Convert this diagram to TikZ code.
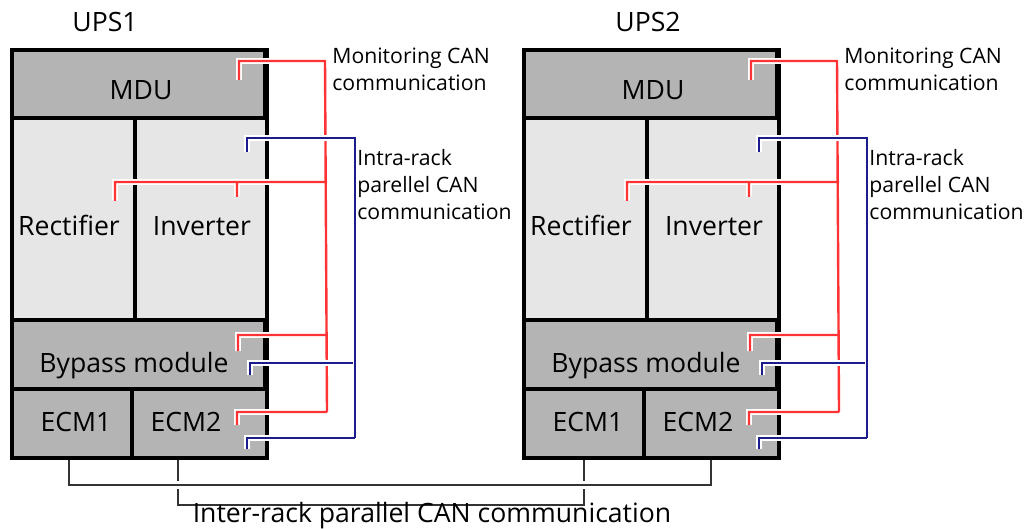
\documentclass[tikz,border=0pt]{standalone}
\usepackage{fontspec}
\setmainfont{Open Sans}
\usetikzlibrary{positioning}
\definecolor{cellgray}{HTML}{B4B4B4}
\definecolor{celllight}{HTML}{E6E6E6}
\definecolor{monred}{HTML}{FF3333}
\definecolor{intrablue}{HTML}{1C1C8F}
\tikzset{
    cell/.style = {draw=black,line width=1pt,inner sep=0,anchor=north west},
    darkcell/.style = {cell,fill=cellgray},
    litecell/.style = {cell,fill=celllight},
    celltext/.style = {anchor=base,inner sep=0,font=\fontsize{13.3}{15}\selectfont},
    rackframe/.style = {draw=black,line width=1.6pt},
    monitor/.style = {draw=monred,line width=1.2pt,
        preaction={draw=white,line width=2.9pt}},
    intra/.style = {draw=intrablue,line width=1.2pt,
        preaction={draw=white,line width=2.9pt}},
    inter/.style = {draw=black!80,line width=1.1pt},
    note/.style = {align=left,anchor=north west,inner sep=0,
        font=\fontsize{10.6}{13.4}\selectfont}
}
\begin{document}
\begin{tikzpicture}[x=0.5pt,y=-0.5pt]
    \useasboundingbox (0,0) rectangle (1026,529);
    \foreach \i/\dx/\ux in {1/0/105,2/512/648}{
        % Cells
        \node[darkcell,minimum width=125.5pt,minimum height=33pt] (mdu\i) at (12+\dx,50) {};
        \node[litecell,minimum width=60.5pt,minimum height=100pt,below right=0pt of mdu\i.south west] (rect\i) {};
        \node[litecell,minimum width=65pt,minimum height=100pt,below right=0pt of rect\i.north east] (inv\i) {};
        \node[darkcell,minimum width=125.5pt,minimum height=33.5pt,below right=0pt of rect\i.south west] (byp\i) {};
        \node[darkcell,minimum width=59pt,minimum height=33.5pt,below right=0pt of byp\i.south west] (ecma\i) {};
        \node[darkcell,minimum width=66.5pt,minimum height=33.5pt,below right=0pt of ecma\i.north east] (ecmb\i) {};
        % Texts
        \node[celltext] (ups\i) at (\ux,32) {UPS\i};
        \node[celltext] (tmdu\i) at ([shift={(2.5,16)}]mdu\i.center) {MDU};
        \node[celltext] (trect\i) at ([shift={(-4.5,16)}]rect\i.center) {Rectifier};
        \node[celltext] (tinv\i) at ([shift={(1,16)}]inv\i.center) {Inverter};
        \node[celltext] (tbyp\i) at ([shift={(-4.5,17.5)}]byp\i.center) {Bypass module};
        \node[celltext] (tecma\i) at ([shift={(4,7.5)}]ecma\i.center) {ECM1};
        \node[celltext] (tecmb\i) at ([shift={(-13.5,7.5)}]ecmb\i.center) {ECM2};
        \node[note] (mon\i) at ([shift={(67,-2)}]mdu\i.north east) {Monitoring CAN\\communication};
        \node[note] (par\i) at ([shift={(90,31)}]inv\i.north east) {Intra-rack\\parellel CAN\\communication};
        % Stub ends and buses
        \coordinate (smdu\i) at ([shift={(-26,30)}]mdu\i.north east);
        \coordinate (srect\i) at ([shift={(103,83)}]rect\i.north west);
        \coordinate (sinv\i) at ([shift={(-30,79)}]inv\i.north east);
        \coordinate (sbyr\i) at ([shift={(-27,31)}]byp\i.north east);
        \coordinate (secr\i) at ([shift={(-30,36)}]ecmb\i.north east);
        \coordinate (sinvb\i) at ([shift={(-20,34)}]inv\i.north east);
        \coordinate (sbyb\i) at ([shift={(-15,55)}]byp\i.north east);
        \coordinate (secb\i) at ([shift={(-20,60)}]ecmb\i.north east);
        \coordinate (rm\i) at ([shift={(60,11)}]mdu\i.north east);
        \coordinate (rr\i) at ([shift={(60,64)}]inv\i.north east);
        \coordinate (rb\i) at ([shift={(60,15)}]byp\i.north east);
        \coordinate (re\i) at ([shift={(60,23)}]ecmb\i.north east);
        \coordinate (bi\i) at ([shift={(88,20)}]inv\i.north east);
        \coordinate (bb\i) at ([shift={(88,43)}]byp\i.north east);
        \coordinate (be\i) at ([shift={(88,49)}]ecmb\i.north east);
    }
    % Inter-rack lines
    \coordinate (da1) at ([shift={(57,0)}]ecma1.south west);
    \coordinate (db1) at ([shift={(46,0)}]ecmb1.south west);
    \coordinate (da2) at ([shift={(60,0)}]ecma2.south west);
    \coordinate (db2) at ([shift={(67,0)}]ecmb2.south west);
    \draw[inter] (db1) -- ++(0,47) -| (da2);
    \draw[inter,preaction={draw=white,line width=4pt}] (da1) -- ++(0,27) -| (db2);
    \node[celltext] (interlbl) at (432,522) {Inter-rack parallel CAN communication};
    \foreach \i in {1,2}{
        \draw[rackframe] (mdu\i.north west) rectangle (ecmb\i.south east);
        % Monitoring CAN
        \draw[monitor] (smdu\i) |- (rm\i) -- (re\i)
            (srect\i) |- (rr\i) (sinv\i) -- (sinv\i |- rr\i)
            (sbyr\i) |- (rb\i) (secr\i) |- (re\i);
        % Intra-rack CAN
        \draw[intra] (sinvb\i) |- (bi\i) -- (be\i)
            (sbyb\i) |- (bb\i) (secb\i) |- (be\i);
    }
\end{tikzpicture}
\end{document}
